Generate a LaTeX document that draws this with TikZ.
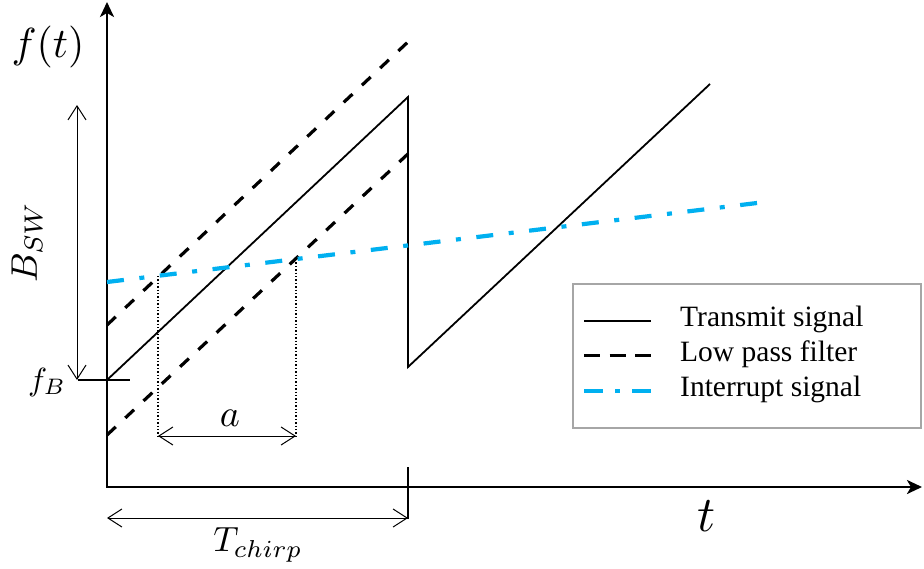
\documentclass[tikz,border=0pt]{standalone}
\usepackage{fontspec}
\newfontfamily\legendfont{Liberation Serif}
\usetikzlibrary{arrows.meta}
\definecolor{intblue}{RGB}{0,176,240}
\begin{document}
\begin{tikzpicture}[x=1pt,y=-1pt,
  axis/.style={line width=2.6pt,line join=miter,{Stealth[length=15pt,width=14pt,inset=4pt]}-{Stealth[length=15pt,width=14pt,inset=4pt]}},
  tx/.style={line width=1.8pt},
  lpf/.style={line width=3.2pt,dash pattern=on 12pt off 13pt},
  intr/.style={line width=4.2pt,intblue,dash pattern=on 17pt off 15.6pt on 5pt off 15.55pt},
  dimarrow/.style={line width=1pt,{Straight Barb[length=14pt,width=18pt]}-{Straight Barb[length=14pt,width=18pt]}},
  guide/.style={line width=1.4pt,dotted},
  lbl/.style={inner sep=0pt},
  legtext/.style={inner sep=0pt,anchor=west,font=\legendfont\fontsize{29.5}{33}\selectfont},
]
\useasboundingbox (0,0) rectangle (924,568);
% axes
\coordinate (ytop) at (107,2);
\coordinate (O) at (107,487);
\coordinate (xend) at (922,487);
\draw[axis] (ytop) -- (O) -- (xend);
% tick at end of chirp
\coordinate (tickA) at (408,467);
\coordinate (tickB) at (408,519);
\draw[line width=2.4pt] (tickA) -- (tickB);
% transmit signal
\coordinate (s0) at (107,380);
\coordinate (s1) at (408,97);
\coordinate (s2) at (408,367);
\coordinate (s3) at (710,84);
\draw[tx] (s0) -- (s1) -- (s2) -- (s3);
% low pass filter
\coordinate (u0) at (107,325);
\coordinate (u1) at (410,40);
\coordinate (l0) at (107,435);
\coordinate (l1) at (410,152);
\draw[lpf] (u0) -- (u1);
\draw[lpf] (l0) -- (l1);
% interrupt signal
\coordinate (b0) at (107,282);
\coordinate (b1) at (757,203);
\draw[intr] (b0) -- (b1);
% f_B line
\coordinate (fb0) at (78,380);
\coordinate (fb1) at (130,380);
\draw[tx] (fb0) -- (fb1);
% B_SW dimension
\coordinate (bw0) at (77,105);
\coordinate (bw1) at (77,380);
\draw[dimarrow] (bw0) -- (bw1);
% dotted guides
\coordinate (g1t) at (158,276);
\coordinate (g1b) at (158,437);
\coordinate (g2t) at (296,259);
\coordinate (g2b) at (296,437);
\draw[guide] (g1t) -- (g1b);
\draw[guide] (g2t) -- (g2b);
% a dimension
\coordinate (a0) at (158,436);
\coordinate (a1) at (296,436);
\draw[dimarrow] (a0) -- (a1);
% T_chirp dimension
\coordinate (tc0) at (107,518);
\coordinate (tc1) at (408,518);
\draw[dimarrow] (tc0) -- (tc1);
% labels
\node[lbl,scale=4.2] (fl) at (48,47) {$f(t)$};
\node[lbl,rotate=90,scale=3.7] (bl) at (27,242) {$B_{SW}$};
\node[lbl,scale=3.2] (fbl) at (47,382) {$f_B$};
\node[lbl,scale=3.8] (al) at (230,418) {$a$};
\node[lbl,scale=3.5] (tcl) at (258,545) {$T_{chirp}$};
\node[lbl,scale=5.0] (tl) at (707,516) {$t$};
% legend
\draw[draw=black!35,line width=1.5pt] (573,284) rectangle (921,428);
\coordinate (la0) at (584,321);
\coordinate (la1) at (651,321);
\coordinate (lb0) at (584,355);
\coordinate (lb1) at (651,355);
\coordinate (lc0) at (584,391);
\coordinate (lc1) at (651,391);
\draw[tx] (la0) -- (la1);
\draw[line width=3pt,dash pattern=on 16pt off 9.5pt] (lb0) -- (lb1);
\draw[line width=4pt,intblue,dash pattern=on 19pt off 12pt on 5pt off 12pt] (lc0) -- (lc1);
\node[legtext] (t1) at (680,319) {Transmit signal};
\node[legtext] (t2) at (680,354) {Low pass filter};
\node[legtext] (t3) at (680,389) {Interrupt signal};
\end{tikzpicture}
\end{document}
